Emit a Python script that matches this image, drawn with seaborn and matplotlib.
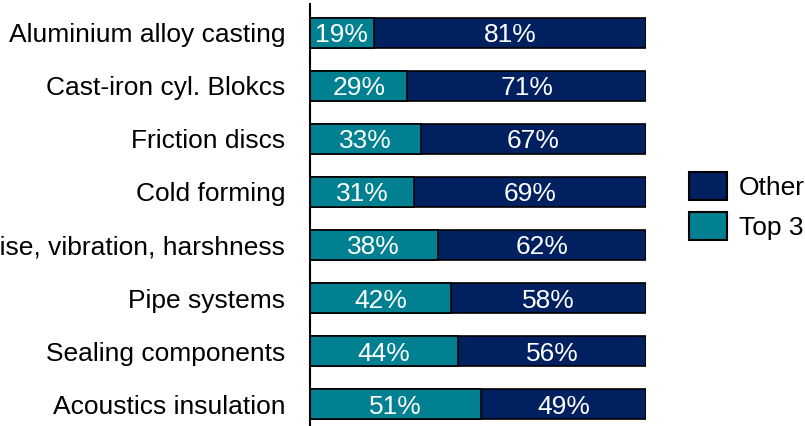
import matplotlib
matplotlib.use("Agg")
import matplotlib.pyplot as plt
from matplotlib.patches import Patch
import seaborn as sns
import pandas as pd

# Share of the three largest suppliers per segment (percent)
categories = [
    "Aluminium alloy casting",
    "Cast-iron cyl. Blokcs",
    "Friction discs",
    "Cold forming",
    "Noise, vibration, harshness",
    "Pipe systems",
    "Sealing components",
    "Acoustics insulation",
]
top3 = [19, 29, 33, 31, 38, 42, 44, 51]
other = [81, 71, 67, 69, 62, 58, 56, 49]
series_labels = ["Other", "Top 3"]

TEAL = "#008090"
NAVY = "#002060"
FS = 19

sns.set_style("white")
plt.rcParams["font.family"] = ["Liberation Sans", "DejaVu Sans"]
plt.rcParams["text.color"] = "black"

df = pd.DataFrame({"category": categories, "top3": top3, "other": other})
df["total"] = df["top3"] + df["other"]

fig = plt.figure(figsize=(8.05, 4.26), dpi=100)
ax = fig.add_axes([310 / 805, 0.0, (646 - 310) / 805, 422 / 426])

bar_kw = dict(orient="h", width=0.57, edgecolor="black", linewidth=1.2, ax=ax)
sns.barplot(data=df, x="total", y="category", color=NAVY, saturation=1, **bar_kw)
sns.barplot(data=df, x="top3", y="category", color=TEAL, saturation=1, **bar_kw)

# percentage labels centred in each segment
for i, (t, o) in enumerate(zip(df["top3"], df["other"])):
    ax.text(t / 2, i, f"{t}%", color="white", ha="center", va="center_baseline", fontsize=FS)
    ax.text(t + o / 2, i, f"{o}%", color="white", ha="center", va="center_baseline", fontsize=FS)

ax.set_xlim(0, 100)
ax.set_ylim(7.415, -0.547)
ax.set_xlabel("")
ax.set_ylabel("")
ax.set_xticks([])
ax.tick_params(axis="y", length=0, pad=18, labelsize=FS, labelcolor="black")
for side in ("top", "right", "bottom"):
    ax.spines[side].set_visible(False)
ax.spines["left"].set_color("black")
ax.spines["left"].set_linewidth(1.5)

handles = [
    Patch(facecolor=NAVY, edgecolor="black", linewidth=1.5, label=series_labels[0]),
    Patch(facecolor=TEAL, edgecolor="black", linewidth=1.5, label=series_labels[1]),
]
fig.legend(
    handles=handles,
    loc="upper left",
    bbox_to_anchor=(689 / 805, 1 - 172 / 426),
    frameon=False,
    fontsize=FS,
    labelcolor="black",
    handlelength=1.45,
    handleheight=1.25,
    handletextpad=0.45,
    labelspacing=0.45,
    borderpad=0,
    borderaxespad=0,
)

fig.savefig("out.png", dpi=100)
